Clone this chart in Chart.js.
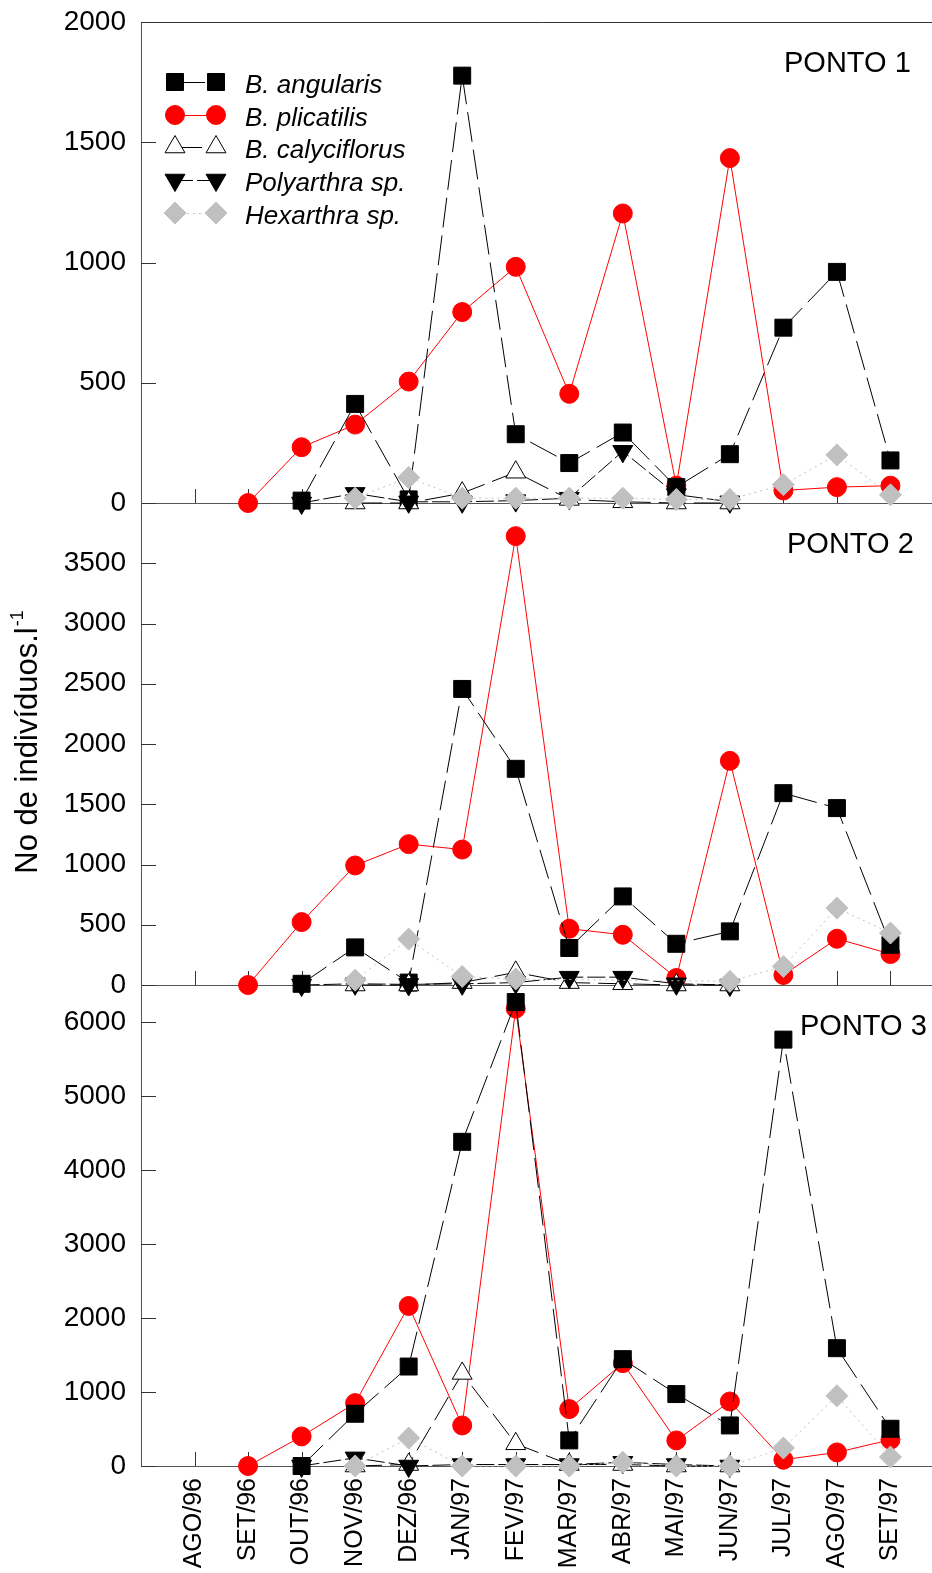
<!DOCTYPE html>
<html>
<head>
<meta charset="utf-8">
<script src="https://cdn.jsdelivr.net/npm/chart.js@4.4.0/dist/chart.umd.min.js"></script>
<style>
html, body { margin: 0; padding: 0; background: #fff; overflow: hidden; width: 932px; height: 1573px; }
#wrap { position: relative; width: 932px; height: 1573px; overflow: hidden; background: #fff; }
canvas { position: absolute; left: 0; }
</style>
</head>
<body>
<div id="wrap">
  <canvas id="p1" width="944" height="540" style="top:0px"></canvas>
  <canvas id="p2" width="944" height="540" style="top:470px"></canvas>
  <canvas id="p3" width="944" height="623" style="top:950px"></canvas>
</div>
<script>
// ---------- DATA ----------
const months = ['AGO/96','SET/96','OUT/96','NOV/96','DEZ/96','JAN/97','FEV/97','MAR/97','ABR/97','MAI/97','JUN/97','JUL/97','AGO/97','SET/97'];
const seriesNames = ['B. angularis','B. plicatilis','B. calyciflorus','Polyarthra sp.','Hexarthra sp.'];
const panelTitles = ['PONTO 1','PONTO 2','PONTO 3'];
const yAxisTitle = 'No de indivíduos.l';
const yAxisTitleSup = '-1';

// PONTO 1
const angularis1    = [null, null, 10, 412, 15, 1777, 286, 166, 293, 66, 203, 729, 961, 177];
const plicatilis1   = [null, 0, 232, 326, 505, 794, 982, 454, 1204, 72, 1434, 52, 66, 72];
const calyciflorus1 = [null, null, null, 0, 0, 41, 128, 15, 5, 0, 0, null, null, null];
const polyarthra1   = [null, null, 0, 40, 5, 5, 10, 20, 215, 35, 5, null, null, null];
const hexarthra1    = [null, null, null, 20, 106, 20, 20, 20, 20, 15, 15, 76, 200, 34];

// PONTO 2
const angularis2    = [null, null, 10, 312, 20, 2457, 1794, 307, 735, 342, 445, 1592, 1468, 334];
const plicatilis2   = [null, 0, 522, 992, 1169, 1124, 3725, 467, 417, 58, 1860, 83, 384, 257];
const calyciflorus2 = [null, null, null, 0, 0, 20, 105, 20, 10, 0, 0, null, null, null];
const polyarthra2   = [null, null, 0, 10, 5, 10, 20, 65, 65, 10, 0, null, null, null];
const hexarthra2    = [null, null, null, 40, 381, 71, 50, null, null, null, 30, 154, 638, 431];

// PONTO 3
const angularis3    = [null, null, 0, 706, 1344, 4381, 6270, 346, 1444, 972, 548, 5762, 1592, 503];
const plicatilis3   = [null, 0, 400, 850, 2163, 548, 6181, 769, 1390, 346, 872, 85, 184, 355];
const calyciflorus3 = [null, null, null, 0, 20, 1251, 300, 20, 20, 0, 0, null, null, null];
const polyarthra3   = [null, null, 0, 110, 0, 20, 20, 20, 50, 20, 0, null, null, null];
const hexarthra3    = [null, null, null, 0, 378, 0, 0, 0, 50, 0, 0, 243, 949, 121];

// y axis ranges and tick labels
const yMax1 = 2000, yTicks1 = [0, 500, 1000, 1500, 2000];
const yMax2 = 4000, yTicks2 = [0, 500, 1000, 1500, 2000, 2500, 3000, 3500];
const yMax3 = 6500, yTicks3 = [0, 1000, 2000, 3000, 4000, 5000, 6000];

// ---------- STYLES ----------
const FONT = '"Liberation Sans", Arial, Helvetica, sans-serif';
Chart.defaults.font.family = FONT;
Chart.defaults.color = '#000';

const styles = [
  { line: '#000000', border: '#000000', fill: '#000000', pstyle: 'rect',     radius: 12,   rotation: 0,   dash: [30, 8], order: 4 },
  { line: '#ff0000', border: '#ff0000', fill: '#ff0000', pstyle: 'circle',   radius: 9.5,  rotation: 0,   dash: [],      order: 5 },
  { line: '#000000', border: '#000000', fill: '#ffffff', pstyle: 'triangle', radius: 11.5, rotation: 0,   dash: [27, 8], order: 3 },
  { line: '#000000', border: '#000000', fill: '#000000', pstyle: 'triangle', radius: 11.5, rotation: 180, dash: [18, 4], order: 2 },
  { line: '#c0c0c0', border: '#c0c0c0', fill: '#c0c0c0', pstyle: 'rectRot',  radius: 11,   rotation: 0,   dash: [2, 4],  order: 1 }
];

function buildDatasets(arrays) {
  return arrays.map((arr, i) => {
    const s = styles[i];
    return {
      label: seriesNames[i],
      data: arr,
      borderColor: s.line,
      backgroundColor: s.fill,
      borderWidth: 1,
      borderDash: s.dash,
      pointStyle: s.pstyle,
      pointRadius: s.radius,
      pointHoverRadius: s.radius,
      pointRotation: s.rotation,
      pointBackgroundColor: s.fill,
      pointBorderColor: s.border,
      pointBorderWidth: 1,
      tension: 0,
      fill: false,
      spanGaps: true,
      clip: false,
      order: s.order
    };
  });
}

// ---------- PLUGINS ----------
const decoPlugin = {
  id: 'deco',
  beforeDatasetsDraw(chart, args, opts) {
    const ctx = chart.ctx, a = chart.chartArea, xs = chart.scales.x, ys = chart.scales.y;
    ctx.save();
    ctx.strokeStyle = '#333';
    ctx.lineWidth = 1;
    ctx.setLineDash([]);
    ctx.beginPath();
    for (let i = 0; i < months.length; i++) {
      const px = Math.round(xs.getPixelForValue(i)) + 0.5;
      ctx.moveTo(px, a.bottom);
      ctx.lineTo(px, a.bottom - 14);
    }
    ys.ticks.forEach(t => {
      const py = Math.round(ys.getPixelForValue(t.value)) + 0.5;
      ctx.moveTo(a.left, py);
      ctx.lineTo(a.left + 15, py);
    });
    if (opts.topLine) {
      ctx.moveTo(a.left, Math.round(a.top) + 0.5);
      ctx.lineTo(a.right, Math.round(a.top) + 0.5);
    }
    ctx.stroke();
    ctx.restore();
  },
  afterDraw(chart, args, opts) {
    const ctx = chart.ctx;
    ctx.save();
    ctx.fillStyle = '#000';
    ctx.font = '29px ' + FONT;
    ctx.textAlign = 'left';
    ctx.textBaseline = 'alphabetic';
    ctx.fillText(opts.label, opts.labelX, opts.labelY);

    if (opts.legend) {
      const rows = [82, 115, 147, 180, 213];
      styles.forEach((s, i) => {
        const y = rows[i];
        ctx.save();
        ctx.strokeStyle = s.line;
        ctx.lineWidth = 1;
        ctx.setLineDash(s.dash);
        ctx.beginPath();
        ctx.moveTo(175, y + 0.5);
        ctx.lineTo(216, y + 0.5);
        ctx.stroke();
        ctx.setLineDash([]);
        ctx.fillStyle = s.fill;
        ctx.strokeStyle = s.border;
        [175, 216].forEach(x => {
          Chart.helpers.drawPoint(ctx, { pointStyle: s.pstyle, radius: s.radius, rotation: s.rotation, borderWidth: 1 }, x, y);
        });
        ctx.restore();
        ctx.fillStyle = '#000';
        ctx.font = 'italic 26px ' + FONT;
        ctx.fillText(seriesNames[i], 245, y + 11);
      });
    }

    if (opts.yTitle) {
      ctx.save();
      ctx.translate(opts.yTitleX, opts.yTitleY);
      ctx.rotate(-Math.PI / 2);
      ctx.font = '31px ' + FONT;
      const w1 = ctx.measureText(yAxisTitle).width;
      ctx.font = '18px ' + FONT;
      const w2 = ctx.measureText(yAxisTitleSup).width;
      const start = -(w1 + w2 + 1) / 2;
      ctx.font = '31px ' + FONT;
      ctx.textAlign = 'left';
      ctx.fillText(yAxisTitle, start, 11);
      ctx.font = '18px ' + FONT;
      ctx.fillText(yAxisTitleSup, start + w1 + 1, -3);
      ctx.restore();
    }
    ctx.restore();
  }
};

function makeChart(id, arrays, yMax, yTicks, pad, xHeight, showX, deco) {
  return new Chart(document.getElementById(id), {
    type: 'line',
    data: { labels: months.map((m, i) => i), datasets: buildDatasets(arrays) },
    options: {
      responsive: false,
      animation: false,
      events: [],
      layout: { autoPadding: false, padding: { top: pad.top, bottom: pad.bottom, left: 0, right: 0 } },
      plugins: { legend: { display: false }, tooltip: { enabled: false }, deco: deco },
      scales: {
        x: {
          type: 'linear', min: -1, max: 14,
          afterFit: s => { s.height = xHeight; s.paddingLeft = 0; s.paddingRight = 0; },
          grid: { display: true, drawOnChartArea: false, drawTicks: false },
          border: { display: true, color: '#555', width: 1 },
          ticks: {
            display: showX, stepSize: 1, autoSkip: false, minRotation: 90, maxRotation: 90,
            padding: 12, color: '#000', font: { size: 25 },
            callback: v => (months[v] !== undefined ? months[v] : '')
          }
        },
        y: {
          type: 'linear', min: 0, max: yMax,
          afterFit: s => { s.width = 141; s.paddingTop = 0; s.paddingBottom = 0; },
          afterBuildTicks: s => { s.ticks = yTicks.map(v => ({ value: v })); },
          grid: { display: true, drawOnChartArea: false, drawTicks: false },
          border: { display: true, color: '#555', width: 1 },
          ticks: { padding: 15, color: '#000', font: { size: 28 }, callback: v => String(v) }
        }
      }
    },
    plugins: [decoPlugin]
  });
}

makeChart('p1', [angularis1, plicatilis1, calyciflorus1, polyarthra1, hexarthra1],
  yMax1, yTicks1, { top: 22, bottom: 37 }, 0, false,
  { label: panelTitles[0], labelX: 784, labelY: 72, legend: true, topLine: true });

makeChart('p2', [angularis2, plicatilis2, calyciflorus2, polyarthra2, hexarthra2],
  yMax2, yTicks2, { top: 33, bottom: 25 }, 0, false,
  { label: panelTitles[1], labelX: 787, labelY: 83, yTitle: true, yTitleX: 26, yTitleY: 272 });

makeChart('p3', [angularis3, plicatilis3, calyciflorus3, polyarthra3, hexarthra3],
  yMax3, yTicks3, { top: 35, bottom: 0 }, 107, true,
  { label: panelTitles[2], labelX: 800, labelY: 85 });
</script>
</body>
</html>
